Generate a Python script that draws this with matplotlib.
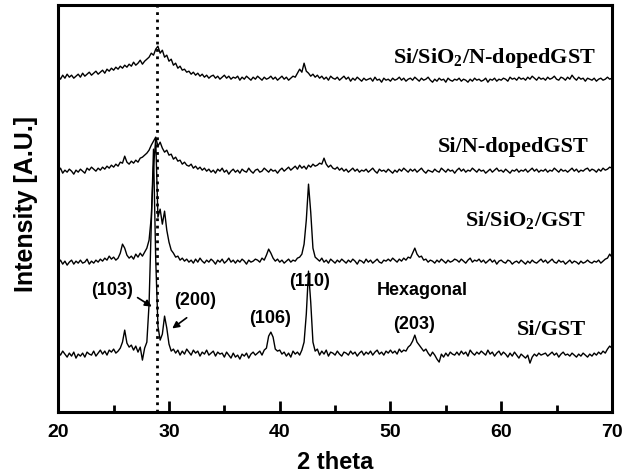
import numpy as np
import matplotlib
matplotlib.use("Agg")
import matplotlib.pyplot as plt

# 2-theta grid of the digitized scans (0.2 deg steps, 20..70)
two_theta = np.linspace(20, 70, 251)

# intensities, relative to each scan's own baseline
si_gst = [
    2, -1, 3, 0, -3, 1, -2, 2, -4, 0,
    -2, 1, -3, 2, 0, -1, 3, -2, 1, 4,
    0, 3, -1, 4, 2, 5, 1, 3, 6, 12,
    24, 11, 7, 9, 4, 8, 2, 7, -6, 6,
    12, 50, 130, 205, 95, 28, 14, 20, 38, 26,
    10, 3, 5, 1, 4, -1, 3, 0, 5, 2,
    -1, 4, 1, 3, -2, 2, 0, 4, -1, 1,
    3, -2, 2, 0, 1, -3, 2, -1, -4, 1,
    -3, -1, -5, 0, -2, 1, -4, 0, 2, -1,
    1, 3, -1, 4, 6, 18, 22, 17, 5, 3,
    4, 0, 2, -2, 1, -3, 3, 0, 2, -1,
    4, 12, 40, 83, 52, 12, 3, 5, -1, 3,
    0, 4, -2, 2, 1, -1, 3, 0, -2, 2,
    1, -1, 3, 0, 2, -2, 1, 3, -1, 2,
    0, 3, -1, 2, 4, 0, 2, -1, 3, 1,
    4, 1, 3, 0, 5, 2, 4, 3, 7, 9,
    13, 19, 12, 9, 6, 3, 5, 1, -2, 2,
    -1, -5, -8, 0, -3, 1, -2, 2, 0, -1,
    2, -1, 3, 0, 2, -2, 4, 1, -1, 2,
    0, 3, 1, -1, 4, 0, 2, -2, 1, 3,
    -1, 2, 0, -3, 1, -2, 2, -1, -4, 0,
    -2, -4, -1, -9, -3, 0, -2, 1, -1, 0,
    1, -2, 0, 2, -1, 1, -3, 0, 2, -1,
    0, -2, 1, -1, -3, 0, -2, 1, -1, -3,
    0, -2, 1, -1, 2, 0, 3, 1, 5, 8,
    6,
]

si_sio2_gst = [
    -1, 2, -2, 1, -3, 0, 2, -2, 1, -1,
    2, -1, 0, 3, -2, 1, -1, 2, 0, 3,
    1, 4, 2, 6, 3, 5, 2, 4, 9, 18,
    14, 7, 4, 6, 3, 8, 5, 9, 6, 10,
    14, 22, 45, 95, 123, 45, 53, 38, 51, 32,
    20, 12, 9, 5, 6, 2, 4, 1, 3, 0,
    2, -1, 3, 0, 4, 1, -1, 2, 0, 3,
    1, -2, 2, 0, 3, -1, 1, 4, 0, 2,
    -1, 2, 0, 3, 1, -2, 2, 0, 1, 3,
    2, 0, 4, 2, 7, 13, 9, 4, 1, 3,
    0, 2, -1, 1, 3, 0, 2, 1, 4, 5,
    8, 18, 42, 78, 50, 14, 5, 3, 1, 4,
    0, 2, -1, 3, 1, -1, 2, 0, 3, 1,
    -1, 2, 0, 3, 1, -2, 2, 1, -1, 3,
    0, 2, -1, 1, 3, 0, -1, 2, 1, 3,
    1, 4, 2, 0, 3, 1, 4, 2, 5, 4,
    9, 14, 8, 5, 6, 2, 3, 0, 2, 1,
    -1, 2, 0, 3, 1, -1, 2, 0, 1, 3,
    2, 0, 3, 1, -1, 2, 4, 0, 2, 1,
    3, 0, 2, -1, 1, 3, 0, 2, -2, 1,
    2, 0, -1, 2, 1, -2, 0, 1, -1, 2,
    0, -2, 1, -1, 2, 0, -1, 1, 3, 0,
    2, -1, 1, 3, 0, -1, 2, 0, 1, -2,
    0, 2, -1, 1, 0, -2, 1, -1, 0, 2,
    0, -1, 1, 0, 2, -1, 1, 3, 4, 8,
    5,
]

si_n_gst = [
    0, 3, -2, 1, -1, 2, 0, -3, 1, -1,
    2, 0, -2, 3, 1, 4, 2, 0, 3, 1,
    4, 2, 5, 3, 6, 4, 7, 5, 9, 8,
    15, 9, 7, 10, 8, 11, 9, 13, 14, 16,
    18, 21, 26, 30, 34, 25, 29, 23, 19, 21,
    16, 17, 12, 14, 10, 11, 7, 9, 6, 5,
    7, 3, 5, 2, 4, 1, 3, 0, 2, -1,
    1, -2, 2, 0, 3, -1, 1, -3, 0, 2,
    -1, 1, -2, 2, 0, -1, 3, 0, -2, 1,
    2, -1, 0, 3, 1, -1, 2, 0, 1, -2,
    1, 3, 0, 2, 4, 1, 3, 5, 2, 6,
    3, 5, 2, 6, 4, 7, 5, 6, 8, 7,
    13, 7, 4, 6, 3, 2, 4, 1, 3, 0,
    2, -1, 1, 3, 0, 2, -1, 1, 0, 2,
    -1, 1, 3, 0, -2, 2, 0, 1, -1, 2,
    0, -2, 1, -1, 2, 0, 3, 1, -1, 2,
    0, 2, -1, 1, 3, 0, -2, 1, 0, -1,
    2, 0, -1, 3, 1, -1, 2, 0, 1, -2,
    1, 3, 0, 2, -1, 1, 0, 3, 1, -1,
    2, 0, 1, -2, 0, 2, -1, 1, 3, 0,
    1, -1, 2, 0, -2, 1, 0, 2, -1, 1,
    0, 2, -1, 1, 3, 0, 2, -1, 1, 0,
    2, -1, 1, 0, 3, 1, -1, 2, 0, 1,
    -1, 1, 3, 0, 2, -1, 1, 0, 2, 3,
    0, 2, 1, -1, 2, 0, 3, 1, 2, 4,
    3,
]

si_sio2_n_gst = [
    3, 0, 4, 1, 5, 2, 4, 1, 3, 5,
    2, 6, 3, 5, 7, 4, 6, 8, 5, 7,
    9, 6, 10, 8, 11, 9, 12, 10, 13, 11,
    14, 12, 15, 13, 17, 14, 16, 19, 15, 18,
    20, 22, 26, 24, 30, 33, 26, 29, 22, 24,
    18, 20, 14, 16, 11, 13, 9, 10, 7, 8,
    5, 7, 4, 6, 3, 5, 2, 4, 1, 3,
    4, 1, 3, 0, 2, 4, 1, 3, 0, 2,
    1, 3, -1, 2, 0, 3, 1, -1, 2, 0,
    3, 1, -1, 2, 0, 1, 3, 0, 2, -1,
    1, 3, 0, 2, -1, 1, 3, 2, 6, 10,
    7, 16, 8, 6, 3, 5, 2, 4, 1, 3,
    0, 2, -1, 3, 1, 0, 2, -1, 1, 3,
    0, 2, -2, 1, -1, 2, 0, -2, 1, -1,
    0, 1, -2, 2, -1, 0, -3, 1, -1, 0,
    -2, 1, -1, 0, 2, -1, 1, -2, 0, 1,
    -1, 2, 0, -2, 1, -1, 0, 2, -1, -3,
    0, -2, 1, -1, 0, -3, 1, -1, -2, 0,
    -1, 1, -2, 0, -1, -3, 0, -2, 1, -1,
    0, -2, -1, 1, -3, 0, -1, 1, -2, 0,
    -1, 1, 0, -2, 2, 0, 1, -1, 2, 0,
    1, -1, 2, 0, 3, 1, -1, 2, 0, 1,
    -1, 2, 0, 1, 3, 0, -1, 2, 1, -1,
    2, 0, 4, 1, -1, 2, 0, 1, -2, 1,
    0, -1, 1, -2, 0, 1, -1, 0, 2, 0,
    1,
]

scans = [si_gst, si_sio2_gst, si_n_gst, si_sio2_n_gst]
offsets = [58, 150, 241, 333]
names = ["Si/GST", r"Si/SiO$_2$/GST", "Si/N-dopedGST", r"Si/SiO$_2$/N-dopedGST"]
name_pos = [(67.7, 78), (67.7, 187), (67.85, 261), (68.6, 350)]

peak_labels = ["(103)", "(200)", "(106)", "(110)", "Hexagonal", "(203)"]
peak_pos = [(24.85, 123), (32.37, 113), (39.15, 95), (42.7, 132), (52.9, 123), (52.11, 89)]

plt.rcParams["mathtext.fontset"] = "custom"
plt.rcParams["mathtext.default"] = "regular"
plt.rcParams["mathtext.rm"] = "Liberation Serif:bold"

fig = plt.figure(figsize=(6.32, 4.77), dpi=100)
ax = fig.add_axes([0.0922, 0.134, 0.876, 0.853])

for y, off in zip(scans, offsets):
    ax.plot(two_theta, np.array(y) + off, color="black", linewidth=1.0)

ax.axvline(28.95, color="black", linestyle=":", linewidth=2)

for txt, (x, y) in zip(names, name_pos):
    ax.text(x, y, txt, ha="right", va="baseline", fontsize=16,
            family="Liberation Serif", fontweight="bold")

for txt, (x, y) in zip(peak_labels, peak_pos):
    ax.text(x, y, txt, ha="center", va="center", fontsize=13,
            family="Liberation Sans", fontweight="bold")

arrow = dict(arrowstyle="-|>", color="black", linewidth=1.2, mutation_scale=10)
ax.annotate("", xy=(28.66, 104), xytext=(26.95, 116), arrowprops=arrow)
ax.annotate("", xy=(30.09, 82), xytext=(31.8, 96), arrowprops=arrow)

ax.set_xlim(20, 70)
ax.set_ylim(0, 407)
ax.set_xticks([20, 30, 40, 50, 60, 70])
ax.set_xticks([25, 35, 45, 55, 65], minor=True)
ax.set_yticks([])
ax.tick_params(axis="x", which="major", direction="in", length=8, width=2, pad=8)
ax.tick_params(axis="x", which="minor", direction="in", length=5, width=2)
for lab in ax.get_xticklabels():
    lab.set_family("Liberation Sans")
    lab.set_fontweight("bold")
    lab.set_fontsize(14)
for sp in ax.spines.values():
    sp.set_linewidth(2.2)

ax.set_xlabel("2 theta", fontsize=17, family="Liberation Sans", fontweight="bold", labelpad=7)
fig.text(26 / 632, 1 - 204 / 477, "Intensity [A.U.]", rotation=90, ha="center", va="center",
         fontsize=18, family="Liberation Sans", fontweight="bold")

fig.savefig("out.png", dpi=100)
